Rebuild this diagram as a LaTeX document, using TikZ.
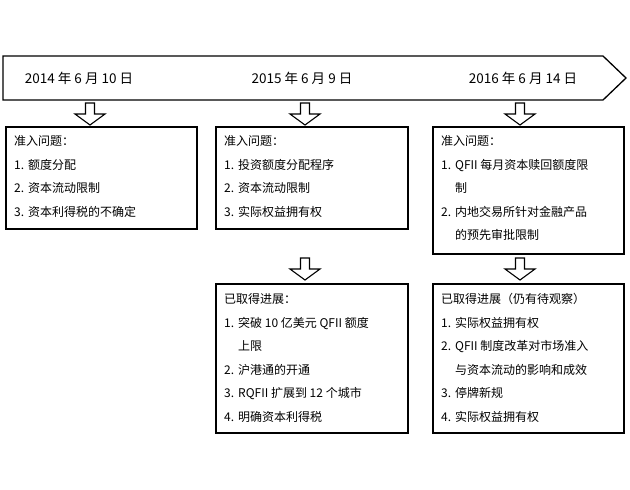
\documentclass[tikz,border=0pt]{standalone}
\usepackage{fontspec}
\setmainfont{Noto Sans CJK SC}
\usetikzlibrary{positioning}
\tikzset{
  box/.style={draw, line width=1.6pt, anchor=north west, inner sep=0pt},
  txt/.style={anchor=north west, inner sep=0pt, font=\fontsize{12}{23.5}\selectfont},
  date/.style={font=\fontsize{13.5}{15}\selectfont},
  down/.pic={
    \draw[line width=1.1pt, fill=white] (-4.5,0) -- (4.5,0) -- (4.5,11) -- (15,11)
      -- (0,22) -- (-15,11) -- (-4.5,11) -- cycle;
  }
}
\newcommand{\lst}[1]{\begin{tabular}{@{}l@{\hspace{4pt}}l@{}}#1\end{tabular}}
\begin{document}
\begin{tikzpicture}[x=1pt,y=-1pt]
  \useasboundingbox (0,0) rectangle (630,490);
  % time line
  \draw[line width=1.3pt] (3,56) -- (603,56) -- (626,78) -- (603,100) -- (3,100) -- cycle;
  \node[date] (d1) at (79,78) {2014 年 6 月 10 日};
  \node[date] (d2) at (302,78) {2015 年 6 月 9 日};
  \node[date] (d3) at (523,78) {2016 年 6 月 14 日};

  \pic at (90,103) {down};
  \pic at (305,103) {down};
  \pic at (520,103) {down};
  \pic at (305,258) {down};
  \pic at (520,258) {down};

  % first row
  \node[box, minimum width=191, minimum height=102] (b1) at (5,126) {};
  \node[box, minimum width=192, minimum height=102] (b2) at (215,126) {};
  \node[box, minimum width=191, minimum height=127] (b3) at (432,126) {};
  \node[txt] at ([shift={(9,3)}]b1.north west) {\lst{\multicolumn{2}{@{}l}{准入问题：}\\
    1. & 额度分配\\ 2. & 资本流动限制\\ 3. & 资本利得税的不确定}};
  \node[txt] at ([shift={(9,3)}]b2.north west) {\lst{\multicolumn{2}{@{}l}{准入问题：}\\
    1. & 投资额度分配程序\\ 2. & 资本流动限制\\ 3. & 实际权益拥有权}};
  \node[txt] at ([shift={(9,3)}]b3.north west) {\lst{\multicolumn{2}{@{}l}{准入问题：}\\
    1. & QFII 每月资本赎回额度限\\ & 制\\ 2. & 内地交易所针对金融产品\\ & 的预先审批限制}};

  % second row
  \node[box, minimum width=192, minimum height=149] (c2) at (215,283) {};
  \node[box, minimum width=191, minimum height=149] (c3) at (432,283) {};
  \node[txt] at ([shift={(9,4)}]c2.north west) {\lst{\multicolumn{2}{@{}l}{已取得进展：}\\
    1. & 突破 10 亿美元 QFII 额度\\ & 上限\\ 2. & 沪港通的开通\\ 3. & RQFII 扩展到 12 个城市\\ 4. & 明确资本利得税}};
  \node[txt] at ([shift={(9,4)}]c3.north west) {\lst{\multicolumn{2}{@{}l}{已取得进展（仍有待观察）}\\
    1. & 实际权益拥有权\\ 2. & QFII 制度改革对市场准入\\ & 与资本流动的影响和成效\\ 3. & 停牌新规\\ 4. & 实际权益拥有权}};
\end{tikzpicture}
\end{document}
